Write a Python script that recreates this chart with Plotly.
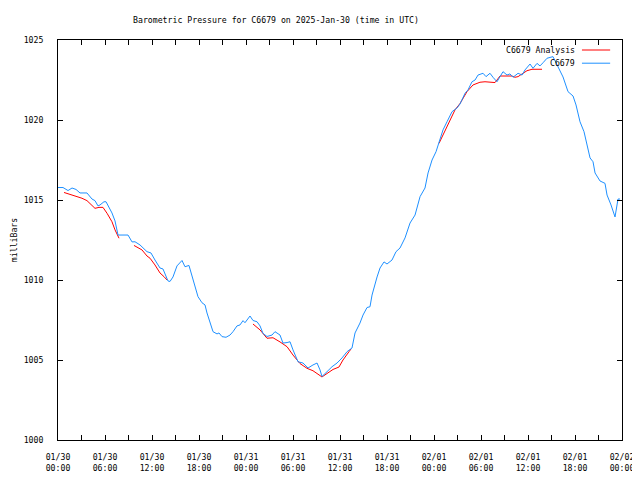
import datetime as dt
import plotly.graph_objects as go

# Observed station pressure (hours since 2025-01-30 00:00 UTC, millibars)
obs_hours = [0, 0.64, 1.28, 1.79, 2.30, 2.81, 3.70, 4.34, 4.72, 5.11, 5.36, 5.87, 6.13, 6.51, 6.89,
             7.28, 7.53, 7.66, 8.94, 9.45, 9.83, 10.47, 11.36, 11.87, 12.38, 13.02, 13.40, 14.04,
             14.30, 14.68, 15.19, 15.83, 16.21, 16.72, 17.11, 17.49, 17.87, 18.38, 18.77, 19.02,
             19.40, 19.79, 20.30, 20.55, 20.94, 21.45, 21.96, 22.34, 22.85, 23.23, 23.62, 23.87,
             24.51, 24.89, 25.41, 25.79, 26.17, 26.68, 27.32, 27.70, 28.34, 28.72, 29.24, 29.62,
             30.00, 30.64, 31.28, 31.92, 32.55, 33.07, 33.45, 33.70, 34.34, 34.98, 35.62, 36.26,
             36.90, 37.53, 37.92, 38.55, 38.94, 39.45, 39.83, 40.09, 40.73, 41.11, 41.62, 42.00,
             42.64, 43.15, 43.66, 44.30, 44.94, 45.58, 46.22, 46.85, 47.24, 47.75, 48.26, 48.64,
             49.15, 49.66, 50.30, 50.94, 51.32, 51.96, 52.34, 52.85, 53.24, 53.62, 54.26, 54.64,
             55.15, 55.53, 56.04, 56.43, 56.81, 57.32, 57.70, 58.09, 58.73, 59.24, 59.62, 60.26,
             60.64, 61.15, 61.53, 61.92, 62.43, 63.19, 63.83, 64.47, 65.11, 65.75, 66.13, 66.64,
             67.15, 67.53, 67.92, 68.30, 68.56, 69.19, 69.83, 70.09, 70.60, 71.11, 71.49, 71.75]
obs_mbar = [1015.78, 1015.78, 1015.59, 1015.75, 1015.66, 1015.44, 1015.44, 1015.06, 1014.96, 1014.63,
            1014.69, 1014.89, 1014.89, 1014.56, 1014.19, 1013.69, 1013.13, 1012.81, 1012.81, 1012.38,
            1012.39, 1012.19, 1011.77, 1011.69, 1011.25, 1010.75, 1010.69, 1009.94, 1009.91, 1010.19,
            1010.88, 1011.22, 1010.83, 1010.91, 1010.25, 1009.58, 1008.96, 1008.58, 1008.44, 1007.94,
            1007.39, 1006.77, 1006.63, 1006.69, 1006.46, 1006.42, 1006.56, 1006.77, 1007.13, 1007.19,
            1007.46, 1007.33, 1007.75, 1007.47, 1007.39, 1007.13, 1006.66, 1006.47, 1006.56, 1006.77,
            1006.56, 1006.06, 1006.09, 1006.14, 1005.63, 1004.89, 1004.81, 1004.50, 1004.69, 1004.81,
            1004.38, 1003.97, 1004.27, 1004.58, 1004.81, 1005.13, 1005.52, 1005.75, 1006.69, 1007.31,
            1007.81, 1008.28, 1008.33, 1009.06, 1010.19, 1010.75, 1011.13, 1011.00, 1011.25, 1011.77,
            1012.00, 1012.63, 1013.56, 1014.06, 1015.21, 1015.75, 1016.69, 1017.50, 1018.02, 1018.64,
            1019.38, 1019.89, 1020.52, 1020.75, 1021.00, 1021.67, 1021.88, 1022.39, 1022.50, 1022.81,
            1022.92, 1022.71, 1022.92, 1022.67, 1022.39, 1022.71, 1023.02, 1022.81, 1022.88, 1022.67,
            1022.92, 1022.81, 1023.13, 1023.50, 1023.23, 1023.54, 1023.38, 1023.58, 1023.86, 1023.96,
            1023.33, 1022.69, 1021.77, 1021.50, 1020.94, 1019.89, 1019.27, 1018.44, 1017.63, 1017.39,
            1016.69, 1016.19, 1016.04, 1015.31, 1014.69, 1013.94, 1015.06, 1015.06]

# Analysis pressure, segments separated by None
ana_hours = [0.77, 1.79, 3.06, 3.70, 4.34, 4.72, 5.23, 5.74, 6.26, 6.89, 7.28, 7.66, 7.79, None,
             9.70, 10.72, 11.36, 11.75, 12.38, 13.02, 13.53, 13.92, None,
             24.89, 25.79, 26.68, 27.45, 28.34, 29.24, 30.00, 30.89, 31.79, 32.55, 33.70, 34.47,
             35.11, 35.87, 36.38, 37.15, 37.41, None,
             48.64, 49.66, 50.68, 51.32, 52.21, 52.98, 53.87, 54.51, 55.15, 55.79, 56.43, 57.96,
             58.34, 58.73, 59.24, 59.87, 60.51, 61.79]
ana_mbar = [1015.47, 1015.31, 1015.11, 1014.96, 1014.69, 1014.48, 1014.54, 1014.54, 1014.17, 1013.64,
            1013.13, 1012.81, 1012.61, None,
            1012.16, 1011.88, 1011.50, 1011.36, 1010.94, 1010.44, 1010.21, 1010.00, None,
            1007.25, 1006.88, 1006.36, 1006.39, 1006.13, 1005.83, 1005.31, 1004.78, 1004.48, 1004.33,
            1003.94, 1004.19, 1004.41, 1004.56, 1005.00, 1005.52, 1005.69, None,
            1018.54, 1019.58, 1020.63, 1021.03, 1021.77, 1022.19, 1022.36, 1022.39, 1022.36, 1022.34,
            1022.75, 1022.75, 1022.67, 1022.71, 1022.88, 1023.08, 1023.17, 1023.17]

y_ticks = [1000, 1005, 1010, 1015, 1020, 1025]
title_text = "Barometric Pressure for C6679 on 2025-Jan-30 (time in UTC)"
legend_names = ["C6679 Analysis", "C6679"]

base = dt.datetime(2025, 1, 30)
def to_time(hs):
    return [None if h is None else base + dt.timedelta(hours=h) for h in hs]

RED = "#ff0000"
BLUE = "#1e90ff"
FONT = dict(family="DejaVu Sans Mono", size=8.2, color="black")

# page body has an 8px default margin, so the figure is sized to fit the window
W, H = 632, 472

fig = go.Figure()
fig.add_trace(go.Scatter(x=to_time(ana_hours), y=ana_mbar, mode="lines", name=legend_names[0],
                         line=dict(color=RED, width=1), connectgaps=False, showlegend=False))
fig.add_trace(go.Scatter(x=to_time(obs_hours), y=obs_mbar, mode="lines", name=legend_names[1],
                         line=dict(color=BLUE, width=1), showlegend=False))

# legend drawn gnuplot-style: text then line sample
for i, (name, col) in enumerate(zip(legend_names, [RED, BLUE])):
    yp = 0.975 - i * 0.033
    fig.add_annotation(xref="paper", yref="paper", x=0.921, y=yp, text=name, showarrow=False,
                       xanchor="right", yanchor="middle", font=FONT)
    fig.add_shape(type="line", xref="paper", yref="paper", x0=0.929, x1=0.979, y0=yp, y1=yp,
                  line=dict(color=col, width=1))

fig.update_layout(
    width=W, height=H,
    margin=dict(l=50, r=18, t=32, b=40, autoexpand=False),
    paper_bgcolor="white", plot_bgcolor="white",
    font=FONT,
    title=dict(text=title_text, x=268 / W, xanchor="center", y=1 - 12 / H, yanchor="middle",
               automargin=False, font=FONT),
)
fig.update_xaxes(
    type="date", automargin=False,
    range=[base, base + dt.timedelta(hours=72)],
    dtick=6 * 3600 * 1000, tick0=base, tickformat="%m/%d<br>%H:%M",
    ticks="inside", ticklen=5, tickcolor="black", mirror="ticks",
    showline=True, linecolor="black", linewidth=1, showgrid=False, zeroline=False,
    minor=dict(dtick=3 * 3600 * 1000, ticks="inside", ticklen=5, tickcolor="black", showgrid=False),
    tickfont=FONT, ticklabelstandoff=9,
)
fig.update_yaxes(
    automargin=False,
    range=[1000, 1025], tickvals=y_ticks, ticktext=[str(v) for v in y_ticks],
    ticks="inside", ticklen=5, tickcolor="black", mirror="ticks",
    showline=True, linecolor="black", linewidth=1, showgrid=False, zeroline=False,
    title=dict(text="milliBars", font=FONT, standoff=4), tickfont=FONT, ticklabelstandoff=12,
)

fig.write_html("out.html")
